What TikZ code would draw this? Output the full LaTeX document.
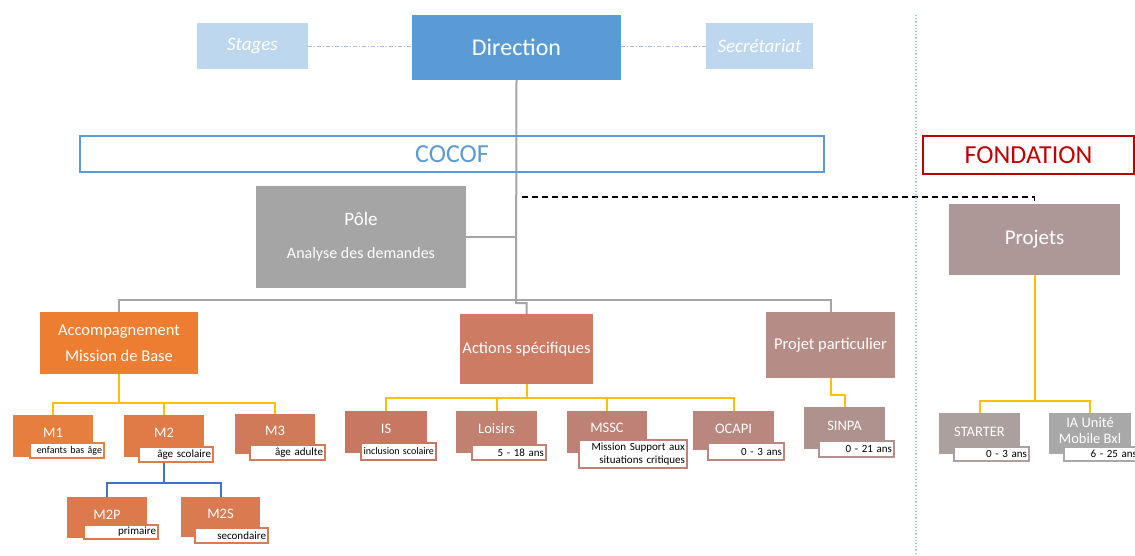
\documentclass[tikz,border=0pt]{standalone}
\usepackage{fontspec}
\setmainfont{Carlito}
\usetikzlibrary{calc}
\pgfdeclarelayer{bg}
\pgfsetlayers{bg,main}
\definecolor{cDir}{HTML}{5B9BD5}
\definecolor{cLight}{HTML}{BDD7EE}
\definecolor{cSep}{HTML}{9DC3E6}
\definecolor{cRed}{HTML}{C00000}
\definecolor{cGray}{HTML}{A5A5A5}
\definecolor{cYel}{HTML}{FFC000}
\definecolor{cBlue}{HTML}{4472C4}
\definecolor{cAcc}{HTML}{ED7D31}
\definecolor{cAct}{HTML}{CD7B63}
\definecolor{cPP}{HTML}{B58C86}
\definecolor{cProj}{HTML}{AD9897}
\definecolor{cMone}{HTML}{E67E3E}
\definecolor{cMtwo}{HTML}{E07B48}
\definecolor{cMthree}{HTML}{D07A5A}
\definecolor{cMtp}{HTML}{DD7A4D}
\definecolor{cMts}{HTML}{D97A50}
\definecolor{cIS}{HTML}{C87762}
\definecolor{cLois}{HTML}{C18070}
\definecolor{cMSSC}{HTML}{BE8176}
\definecolor{cOCAPI}{HTML}{B9877E}
\definecolor{cSINPA}{HTML}{AF918D}
\definecolor{cSTART}{HTML}{ABA09E}
\definecolor{cIA}{HTML}{A8A8A8}
\begin{document}
\begin{tikzpicture}[x=1pt,y=-1pt,
  box/.style={rectangle, anchor=north west, inner sep=0pt, outer sep=0pt, text=white, align=center},
  lbl/.style={rectangle, anchor=north west, inner ysep=0pt, inner xsep=2pt, outer sep=0pt, fill=white, line width=1.3pt, align=right, font=\fontsize{11}{12.5}\selectfont},
  ttl/.style={text=white, font=\fontsize{14.5}{16}\selectfont, inner sep=0pt, align=center},
  gry/.style={draw=cGray, line width=2pt},
  ylw/.style={draw=cYel, line width=2pt},
  blu/.style={draw=cBlue, line width=2pt},
  dd/.style={draw=cSep, line width=0.8pt, dash pattern=on 4pt off 2pt on 1pt off 2pt},
]
\useasboundingbox (0,0) rectangle (1135,555);
\clip (0,0) rectangle (1135,555);

% separator
\draw[cSep, line width=1.2pt, dotted] (916,15) -- (916,555);

% top level
\node[box, fill=cDir, minimum width=209pt, minimum height=65pt, font=\fontsize{24}{28}\selectfont] (dir) at (412,15) {Direction};
\node[box, fill=cLight, minimum width=111pt, minimum height=46pt, font=\fontsize{19}{22}\selectfont\itshape] (stages) at (197,23) {Stages};
\node[box, fill=cLight, minimum width=107pt, minimum height=46pt, font=\fontsize{19}{22}\selectfont\itshape] (secr) at (706,23) {Secrétariat};

\node[box, draw=cDir, line width=1.5pt, text=cDir, minimum width=744pt, minimum height=36pt, font=\fontsize{26}{30}\selectfont] (cocof) at (80,136) {COCOF};
\node[box, draw=cRed, line width=1.5pt, text=cRed, minimum width=211pt, minimum height=38pt, font=\fontsize{26}{30}\selectfont] (fond) at (923,136) {FONDATION};

\node[box, fill=cGray, minimum width=210pt, minimum height=102pt, font=\fontsize{16}{33}\selectfont] (pole) at (256,186) {{\fontsize{19}{33}\selectfont Pôle}\\Analyse des demandes};

\node[box, fill=cAcc, minimum width=158pt, minimum height=62pt, font=\fontsize{16.5}{26}\selectfont] (acc) at (40,312) {Accompagnement\\Mission de Base};
\node[box, fill=cAct, minimum width=133pt, minimum height=70pt, font=\fontsize{16.5}{20}\selectfont] (act) at (460,314) {Actions spécifiques};
\node[box, fill=cPP, minimum width=129pt, minimum height=66pt, font=\fontsize{16.5}{20}\selectfont] (pp) at (766,312) {Projet particulier};
\node[box, fill=cProj, minimum width=171pt, minimum height=71pt, font=\fontsize{21}{25}\selectfont] (projets) at (949,204) {Projets};

% leaves: main boxes
\node[box, fill=cMone, minimum width=80pt, minimum height=42pt] (m1) at (13,415) {};
\node[box, fill=cMtwo, minimum width=80pt, minimum height=42pt] (m2) at (124,415) {};
\node[box, fill=cMthree, minimum width=80pt, minimum height=40pt] (m3) at (235,414) {};
\node[box, fill=cMtp, minimum width=80pt, minimum height=41pt] (m2p) at (67,497) {};
\node[box, fill=cMts, minimum width=79pt, minimum height=40pt] (m2s) at (181,497) {};
\node[box, fill=cIS, minimum width=82pt, minimum height=42pt] (is) at (345,411) {};
\node[box, fill=cLois, minimum width=81pt, minimum height=42pt] (lois) at (456,411) {};
\node[box, fill=cMSSC, minimum width=80pt, minimum height=42pt] (mssc) at (567,411) {};
\node[box, fill=cOCAPI, minimum width=81pt, minimum height=39pt] (ocapi) at (693,411) {};
\node[box, fill=cSINPA, minimum width=81pt, minimum height=42pt] (sinpa) at (804,407) {};
\node[box, fill=cSTART, minimum width=81pt, minimum height=41pt] (starter) at (939,413) {};
\node[box, fill=cIA, minimum width=82pt, minimum height=41pt] (ia) at (1049,413) {};

% titles
\node[ttl] (m1t) at ([yshift=3pt]m1.center) {M1};
\node[ttl] (m2t) at ([yshift=3pt]m2.center) {M2};
\node[ttl] (m3t) at ([yshift=3pt]m3.center) {M3};
\node[ttl] (m2pt) at ([yshift=3pt]m2p.center) {M2P};
\node[ttl] (m2st) at ([yshift=3pt]m2s.center) {M2S};
\node[ttl] (ist) at ([yshift=3pt]is.center) {IS};
\node[ttl] (loist) at ([yshift=3pt]lois.center) {Loisirs};
\node[ttl] (mssct) at ([yshift=4pt]mssc.center) {MSSC};
\node[ttl] (ocapit) at ([yshift=2pt]ocapi.center) {OCAPI};
\node[ttl] (sinpat) at ([yshift=2pt]sinpa.center) {SINPA};
\node[ttl] (startert) at ([yshift=2pt]starter.center) {STARTER};
\node[ttl, font=\fontsize{14.5}{16}\selectfont] (iat) at ([yshift=2.5pt]ia.center) {IA Unité\\Mobile Bxl};

% labels
\node[lbl, draw=cMone, text width=70pt, minimum height=15pt, font=\fontsize{10}{12}\selectfont] (m1l) at (30,443) {enfants bas âge};
\node[lbl, draw=cMtwo, text width=70pt, minimum height=15pt] (m2l) at (139,447) {âge scolaire};
\node[lbl, draw=cMthree, text width=71pt, minimum height=15pt] (m3l) at (250,445) {âge adulte};
\node[lbl, draw=cMtp, text width=70pt, minimum height=14pt] (m2pl) at (84,525) {primaire};
\node[lbl, draw=cMts, text width=69pt, minimum height=15pt] (m2sl) at (195,528) {secondaire};
\node[lbl, draw=cIS, text width=71pt, minimum height=17pt, font=\fontsize{10}{12}\selectfont] (isl) at (361,443) {inclusion scolaire};
\node[lbl, draw=cLois, text width=70pt, minimum height=15pt] (loisl) at (472,445) {5 - 18 ans};
\node[lbl, draw=cMSSC, text width=104pt, minimum height=28pt, font=\fontsize{11}{13}\selectfont] (msscl) at (579,440) {Mission Support aux\\situations critiques};
\node[lbl, draw=cOCAPI, text width=72pt, minimum height=17pt] (ocapil) at (708,443) {0 - 3 ans};
\node[lbl, draw=cSINPA, text width=71pt, minimum height=16pt] (sinpal) at (819,441) {0 - 21 ans};
\node[lbl, draw=cSTART, text width=71pt, minimum height=14pt] (starterl) at (954,447) {0 - 3 ans};
\node[lbl, draw=cIA, text width=71pt, minimum height=14pt] (ial) at (1064,447) {6 - 25 ans};

% connectors
\coordinate (jog) at (516,303);
\coordinate (busG) at (516,300);
\coordinate (dstart) at (522,197);
\coordinate (busA) at (119,403);
\coordinate (busB) at (526,398);
\coordinate (busP) at (1034,401);
\coordinate (busM) at (164,483);

\begin{pgfonlayer}{bg}
\draw[dd] (stages.east) -- (stages.east -| dir.west);
\draw[dd] (dir.east |- secr.west) -- (secr.west);

\draw[gry] (dir.south) -- (jog) -| (act.north);
\draw[gry] (pole.east) -- (pole.east -| dir.south);
\draw[gry] (acc.north) |- (busG) -| (pp.north);

\draw[black, line width=1.3pt, dash pattern=on 6pt off 4pt] (dstart) -| (projets.north);

\draw[ylw] (acc.south) -- (acc.south |- busA);
\draw[ylw] (m1.north) |- (busA) -| (m3.north);
\draw[ylw] (busA -| m2.north) -- (m2.north);

\draw[ylw] (act.south) -- (act.south |- busB);
\draw[ylw] (is.north) |- (busB) -| (ocapi.north);
\draw[ylw] (busB -| lois.north) -- (lois.north);
\draw[ylw] (busB -| mssc.north) -- (mssc.north);

\draw[ylw] (pp.south) -- ++(0,17) -| (sinpa.north);

\draw[ylw] (projets.south) -- (projets.south |- busP);
\draw[ylw] (starter.north) |- (busP) -| (ia.north);

\draw[blu] (m2.south) -- (m2.south |- busM);
\draw[blu] (m2p.north) |- (busM) -| (m2s.north);
\end{pgfonlayer}
\end{tikzpicture}
\end{document}
